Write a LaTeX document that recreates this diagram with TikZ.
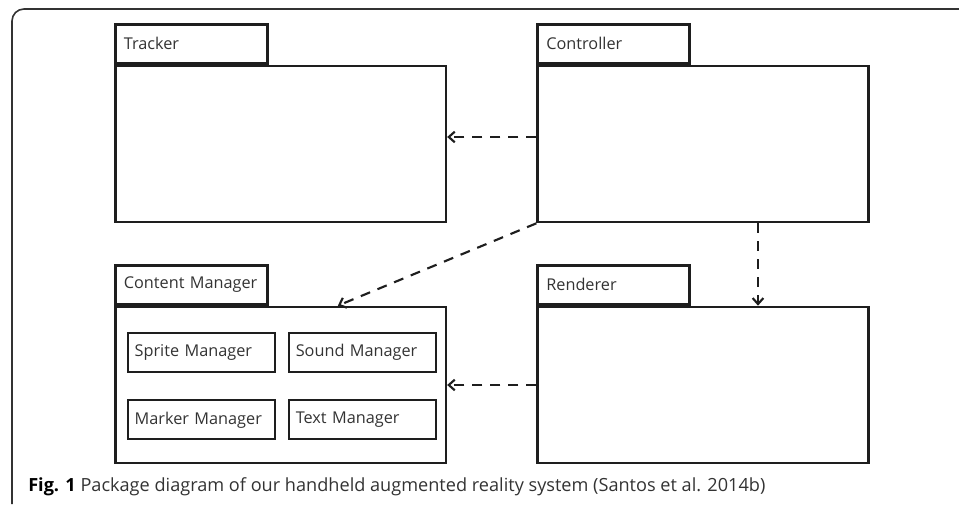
\documentclass[tikz,border=0pt]{standalone}
\usepackage{fontspec}
\setmainfont{Open Sans}
\usetikzlibrary{positioning, arrows.meta}

\definecolor{inkgray}{HTML}{1E1E1E}
\definecolor{textgray}{HTML}{333333}

\tikzset{
    pkgbody/.style={draw=inkgray, line width=2pt, minimum width=248pt, minimum height=117pt, inner sep=0pt},
    pkgtab/.style={draw=inkgray, line width=2pt, minimum height=29.25pt, inner sep=0pt, inner xsep=6.5pt,
        text width=101pt, align=left, text=textgray, font=\fontsize{12.2}{14}\selectfont},
    classbox/.style={draw=inkgray, line width=1.8pt, minimum height=29.25pt, inner sep=0pt, inner xsep=5pt,
        text width=100pt, align=left, text=textgray, font=\fontsize{12.2}{14}\selectfont},
    dep/.style={draw=inkgray, line width=1.6pt, dash pattern=on 7.5pt off 6pt, -{Straight Barb[length=4.5pt, width=8pt]}}
}

\begin{document}
\begin{tikzpicture}[x=0.75pt, y=-0.75pt]
    \useasboundingbox (0,0) rectangle (959,504);
    \draw[line width=1.2pt, black!80, rounded corners=9pt] (12,504) -- (12,9) -- (959,9);

    \node[pkgbody] (trk) at (280.5,144) {};
    \node[pkgtab, above right=0pt and 0pt of trk.north west] (trktab) {Tracker};

    \node[pkgbody] (ctrl) at (703,144) {};
    \node[pkgtab, above right=0pt and 0pt of ctrl.north west] (ctrltab) {Controller};

    \node[pkgbody] (cm) at (280.5,385) {};
    \node[pkgtab, above right=0pt and 0pt of cm.north west] (cmtab) {Content Manager};

    \node[pkgbody] (rnd) at (703,385) {};
    \node[pkgtab, above right=0pt and 0pt of rnd.north west] (rndtab) {Renderer};

    \node[classbox, below right=19.5pt and 9.75pt of cm.north west] (spr) {Sprite Manager};
    \node[classbox, right=9pt of spr] (snd) {Sound Manager};
    \node[classbox, below=19.5pt of spr] (mrk) {Marker Manager};
    \node[classbox, right=9pt of mrk] (txt) {Text Manager};

    \draw[dep] ([yshift=5.25pt]ctrl.west) -- ([yshift=5.25pt]trk.east);
    \draw[dep] (ctrl.south west) -- ([xshift=43pt]cm.north);
    \draw[dep] ([xshift=41.25pt]ctrl.south) -- ([xshift=41.25pt]rnd.north);
    \draw[dep] (rnd.west) -- (cm.east);

    \node[anchor=west, inner sep=0pt, text=textgray, font=\fontsize{13.6}{15}\selectfont] (cap) at (28,487)
        {\textbf{\color{black}Fig. 1} Package diagram of our handheld augmented reality system (Santos et al. 2014b)};
\end{tikzpicture}
\end{document}
